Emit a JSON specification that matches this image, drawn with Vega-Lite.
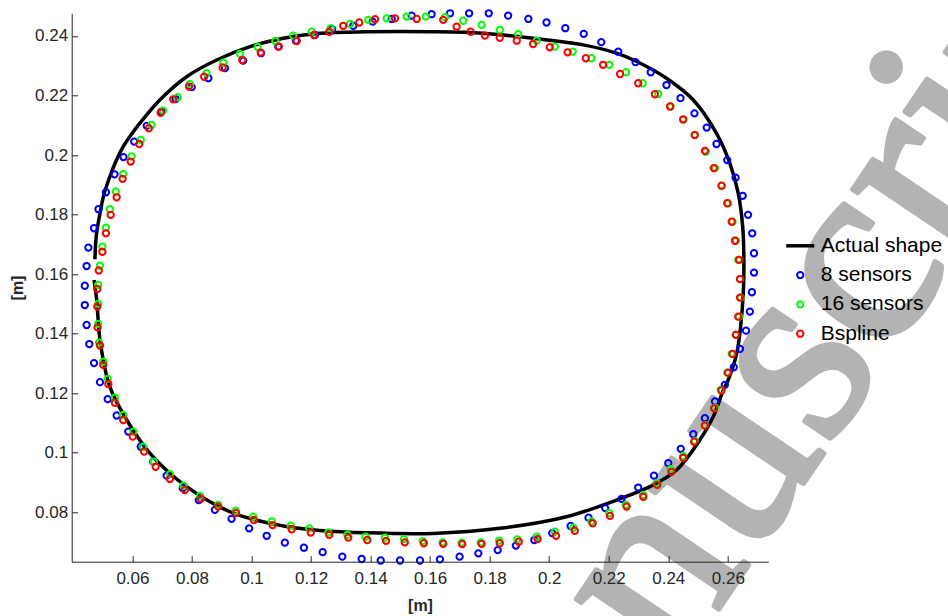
{
  "$schema": "https://vega.github.io/schema/vega-lite/v6.json",
  "width": 696.6,
  "height": 548.4,
  "autosize": {"type": "none"},
  "padding": {"left": 71.7, "top": 13.3, "right": 179.7, "bottom": 54.3},
  "background": "white",
  "config": {
    "view": {"stroke": null},
    "axis": {
      "zindex": 1,
      "grid": false,
      "domainColor": "#262626",
      "domainWidth": 1,
      "tickColor": "#262626",
      "tickSize": -6,
      "tickWidth": 1,
      "labelColor": "#262626",
      "labelFont": "Liberation Sans",
      "labelFontSize": 17,
      "titleFont": "Liberation Sans",
      "titleFontSize": 16,
      "titleFontWeight": "bold",
      "titleColor": "#262626"
    }
  },
  "data": {"values": [
    {"s":"Actual shape","i":1,"x":0.0474,"y":0.1650},
    {"s":"Actual shape","i":2,"x":0.0479,"y":0.1732},
    {"s":"Actual shape","i":3,"x":0.0491,"y":0.1804},
    {"s":"Actual shape","i":4,"x":0.0504,"y":0.1866},
    {"s":"Actual shape","i":5,"x":0.0524,"y":0.1927},
    {"s":"Actual shape","i":6,"x":0.0545,"y":0.1980},
    {"s":"Actual shape","i":7,"x":0.0569,"y":0.2028},
    {"s":"Actual shape","i":8,"x":0.0595,"y":0.2067},
    {"s":"Actual shape","i":9,"x":0.0625,"y":0.2107},
    {"s":"Actual shape","i":10,"x":0.0692,"y":0.2185},
    {"s":"Actual shape","i":11,"x":0.0782,"y":0.2263},
    {"s":"Actual shape","i":12,"x":0.0883,"y":0.2319},
    {"s":"Actual shape","i":13,"x":0.0995,"y":0.2364},
    {"s":"Actual shape","i":14,"x":0.1107,"y":0.2392},
    {"s":"Actual shape","i":15,"x":0.1230,"y":0.2409},
    {"s":"Actual shape","i":16,"x":0.1387,"y":0.2414},
    {"s":"Actual shape","i":17,"x":0.1610,"y":0.2414},
    {"s":"Actual shape","i":18,"x":0.1778,"y":0.2409},
    {"s":"Actual shape","i":19,"x":0.1946,"y":0.2392},
    {"s":"Actual shape","i":20,"x":0.2114,"y":0.2370},
    {"s":"Actual shape","i":21,"x":0.2226,"y":0.2342},
    {"s":"Actual shape","i":22,"x":0.2294,"y":0.2314},
    {"s":"Actual shape","i":23,"x":0.2394,"y":0.2258},
    {"s":"Actual shape","i":24,"x":0.2484,"y":0.2185},
    {"s":"Actual shape","i":25,"x":0.2562,"y":0.2073},
    {"s":"Actual shape","i":26,"x":0.2607,"y":0.1972},
    {"s":"Actual shape","i":27,"x":0.2635,"y":0.1872},
    {"s":"Actual shape","i":28,"x":0.2650,"y":0.1759},
    {"s":"Actual shape","i":29,"x":0.2654,"y":0.1648},
    {"s":"Actual shape","i":30,"x":0.2652,"y":0.1536},
    {"s":"Actual shape","i":31,"x":0.2643,"y":0.1424},
    {"s":"Actual shape","i":32,"x":0.2630,"y":0.1334},
    {"s":"Actual shape","i":33,"x":0.2601,"y":0.1244},
    {"s":"Actual shape","i":34,"x":0.2585,"y":0.1211},
    {"s":"Actual shape","i":35,"x":0.2551,"y":0.1121},
    {"s":"Actual shape","i":36,"x":0.2506,"y":0.1043},
    {"s":"Actual shape","i":37,"x":0.2428,"y":0.0942},
    {"s":"Actual shape","i":38,"x":0.2338,"y":0.0886},
    {"s":"Actual shape","i":39,"x":0.2226,"y":0.0841},
    {"s":"Actual shape","i":40,"x":0.2058,"y":0.0785},
    {"s":"Actual shape","i":41,"x":0.1834,"y":0.0746},
    {"s":"Actual shape","i":42,"x":0.1610,"y":0.0729},
    {"s":"Actual shape","i":43,"x":0.1387,"y":0.0731},
    {"s":"Actual shape","i":44,"x":0.1230,"y":0.0739},
    {"s":"Actual shape","i":45,"x":0.1107,"y":0.0754},
    {"s":"Actual shape","i":46,"x":0.0939,"y":0.0797},
    {"s":"Actual shape","i":47,"x":0.0782,"y":0.0886},
    {"s":"Actual shape","i":48,"x":0.0659,"y":0.0998},
    {"s":"Actual shape","i":49,"x":0.0581,"y":0.1110},
    {"s":"Actual shape","i":50,"x":0.0524,"y":0.1222},
    {"s":"Actual shape","i":51,"x":0.0491,"y":0.1379},
    {"s":"Actual shape","i":52,"x":0.0480,"y":0.1513},
    {"s":"Actual shape","i":53,"x":0.0471,"y":0.1580},

    {"s":"8 sensors","x":0.0440,"y":0.1496},
    {"s":"8 sensors","x":0.0440,"y":0.1561},
    {"s":"8 sensors","x":0.0446,"y":0.1627},
    {"s":"8 sensors","x":0.0452,"y":0.1689},
    {"s":"8 sensors","x":0.0471,"y":0.1754},
    {"s":"8 sensors","x":0.0486,"y":0.1818},
    {"s":"8 sensors","x":0.0511,"y":0.1875},
    {"s":"8 sensors","x":0.0540,"y":0.1935},
    {"s":"8 sensors","x":0.0570,"y":0.1993},
    {"s":"8 sensors","x":0.0606,"y":0.2045},
    {"s":"8 sensors","x":0.0648,"y":0.2098},
    {"s":"8 sensors","x":0.0698,"y":0.2146},
    {"s":"8 sensors","x":0.0745,"y":0.2188},
    {"s":"8 sensors","x":0.0799,"y":0.2228},
    {"s":"8 sensors","x":0.0855,"y":0.2258},
    {"s":"8 sensors","x":0.0911,"y":0.2292},
    {"s":"8 sensors","x":0.0972,"y":0.2317},
    {"s":"8 sensors","x":0.1032,"y":0.2342},
    {"s":"8 sensors","x":0.1090,"y":0.2364},
    {"s":"8 sensors","x":0.1149,"y":0.2384},
    {"s":"8 sensors","x":0.1213,"y":0.2403},
    {"s":"8 sensors","x":0.1271,"y":0.2423},
    {"s":"8 sensors","x":0.1342,"y":0.2434},
    {"s":"8 sensors","x":0.1407,"y":0.2448},
    {"s":"8 sensors","x":0.1471,"y":0.2457},
    {"s":"8 sensors","x":0.1538,"y":0.2468},
    {"s":"8 sensors","x":0.1605,"y":0.2473},
    {"s":"8 sensors","x":0.1667,"y":0.2476},
    {"s":"8 sensors","x":0.1731,"y":0.2476},
    {"s":"8 sensors","x":0.1797,"y":0.2476},
    {"s":"8 sensors","x":0.1862,"y":0.2468},
    {"s":"8 sensors","x":0.1930,"y":0.2457},
    {"s":"8 sensors","x":0.1991,"y":0.2445},
    {"s":"8 sensors","x":0.2054,"y":0.2426},
    {"s":"8 sensors","x":0.2116,"y":0.2407},
    {"s":"8 sensors","x":0.2175,"y":0.2379},
    {"s":"8 sensors","x":0.2232,"y":0.2347},
    {"s":"8 sensors","x":0.2290,"y":0.2312},
    {"s":"8 sensors","x":0.2341,"y":0.2278},
    {"s":"8 sensors","x":0.2394,"y":0.2235},
    {"s":"8 sensors","x":0.2441,"y":0.2191},
    {"s":"8 sensors","x":0.2488,"y":0.2140},
    {"s":"8 sensors","x":0.2529,"y":0.2092},
    {"s":"8 sensors","x":0.2562,"y":0.2037},
    {"s":"8 sensors","x":0.2598,"y":0.1983},
    {"s":"8 sensors","x":0.2626,"y":0.1924},
    {"s":"8 sensors","x":0.2650,"y":0.1863},
    {"s":"8 sensors","x":0.2668,"y":0.1799},
    {"s":"8 sensors","x":0.2682,"y":0.1737},
    {"s":"8 sensors","x":0.2688,"y":0.1670},
    {"s":"8 sensors","x":0.2688,"y":0.1605},
    {"s":"8 sensors","x":0.2681,"y":0.1539},
    {"s":"8 sensors","x":0.2674,"y":0.1474},
    {"s":"8 sensors","x":0.2661,"y":0.1410},
    {"s":"8 sensors","x":0.2641,"y":0.1349},
    {"s":"8 sensors","x":0.2620,"y":0.1287},
    {"s":"8 sensors","x":0.2590,"y":0.1228},
    {"s":"8 sensors","x":0.2557,"y":0.1172},
    {"s":"8 sensors","x":0.2523,"y":0.1116},
    {"s":"8 sensors","x":0.2484,"y":0.1062},
    {"s":"8 sensors","x":0.2442,"y":0.1013},
    {"s":"8 sensors","x":0.2400,"y":0.0965},
    {"s":"8 sensors","x":0.2352,"y":0.0923},
    {"s":"8 sensors","x":0.2299,"y":0.0883},
    {"s":"8 sensors","x":0.2243,"y":0.0845},
    {"s":"8 sensors","x":0.2188,"y":0.0814},
    {"s":"8 sensors","x":0.2132,"y":0.0782},
    {"s":"8 sensors","x":0.2072,"y":0.0754},
    {"s":"8 sensors","x":0.2010,"y":0.0730},
    {"s":"8 sensors","x":0.1950,"y":0.0707},
    {"s":"8 sensors","x":0.1888,"y":0.0688},
    {"s":"8 sensors","x":0.1827,"y":0.0673},
    {"s":"8 sensors","x":0.1762,"y":0.0662},
    {"s":"8 sensors","x":0.1699,"y":0.0651},
    {"s":"8 sensors","x":0.1633,"y":0.0642},
    {"s":"8 sensors","x":0.1566,"y":0.0638},
    {"s":"8 sensors","x":0.1499,"y":0.0638},
    {"s":"8 sensors","x":0.1434,"y":0.0638},
    {"s":"8 sensors","x":0.1370,"y":0.0643},
    {"s":"8 sensors","x":0.1305,"y":0.0651},
    {"s":"8 sensors","x":0.1239,"y":0.0666},
    {"s":"8 sensors","x":0.1176,"y":0.0681},
    {"s":"8 sensors","x":0.1112,"y":0.0698},
    {"s":"8 sensors","x":0.1051,"y":0.0721},
    {"s":"8 sensors","x":0.0992,"y":0.0746},
    {"s":"8 sensors","x":0.0933,"y":0.0778},
    {"s":"8 sensors","x":0.0877,"y":0.0808},
    {"s":"8 sensors","x":0.0823,"y":0.0841},
    {"s":"8 sensors","x":0.0769,"y":0.0881},
    {"s":"8 sensors","x":0.0715,"y":0.0923},
    {"s":"8 sensors","x":0.0670,"y":0.0970},
    {"s":"8 sensors","x":0.0628,"y":0.1020},
    {"s":"8 sensors","x":0.0586,"y":0.1071},
    {"s":"8 sensors","x":0.0547,"y":0.1125},
    {"s":"8 sensors","x":0.0517,"y":0.1180},
    {"s":"8 sensors","x":0.0491,"y":0.1237},
    {"s":"8 sensors","x":0.0471,"y":0.1301},
    {"s":"8 sensors","x":0.0455,"y":0.1365},
    {"s":"8 sensors","x":0.0446,"y":0.1429},

    {"s":"16 sensors","x":0.0485,"y":0.1500},
    {"s":"16 sensors","x":0.0485,"y":0.1564},
    {"s":"16 sensors","x":0.0491,"y":0.1628},
    {"s":"16 sensors","x":0.0499,"y":0.1692},
    {"s":"16 sensors","x":0.0511,"y":0.1756},
    {"s":"16 sensors","x":0.0524,"y":0.1818},
    {"s":"16 sensors","x":0.0544,"y":0.1877},
    {"s":"16 sensors","x":0.0569,"y":0.1936},
    {"s":"16 sensors","x":0.0597,"y":0.1995},
    {"s":"16 sensors","x":0.0628,"y":0.2051},
    {"s":"16 sensors","x":0.0664,"y":0.2101},
    {"s":"16 sensors","x":0.0703,"y":0.2149},
    {"s":"16 sensors","x":0.0752,"y":0.2194},
    {"s":"16 sensors","x":0.0793,"y":0.2238},
    {"s":"16 sensors","x":0.0849,"y":0.2275},
    {"s":"16 sensors","x":0.0905,"y":0.2310},
    {"s":"16 sensors","x":0.0961,"y":0.2340},
    {"s":"16 sensors","x":0.1021,"y":0.2363},
    {"s":"16 sensors","x":0.1080,"y":0.2383},
    {"s":"16 sensors","x":0.1140,"y":0.2401},
    {"s":"16 sensors","x":0.1202,"y":0.2414},
    {"s":"16 sensors","x":0.1266,"y":0.2426},
    {"s":"16 sensors","x":0.1331,"y":0.2440},
    {"s":"16 sensors","x":0.1392,"y":0.2454},
    {"s":"16 sensors","x":0.1454,"y":0.2459},
    {"s":"16 sensors","x":0.1521,"y":0.2465},
    {"s":"16 sensors","x":0.1585,"y":0.2465},
    {"s":"16 sensors","x":0.1650,"y":0.2463},
    {"s":"16 sensors","x":0.1711,"y":0.2451},
    {"s":"16 sensors","x":0.1773,"y":0.2437},
    {"s":"16 sensors","x":0.1834,"y":0.2420},
    {"s":"16 sensors","x":0.1896,"y":0.2406},
    {"s":"16 sensors","x":0.1958,"y":0.2384},
    {"s":"16 sensors","x":0.2019,"y":0.2364},
    {"s":"16 sensors","x":0.2079,"y":0.2347},
    {"s":"16 sensors","x":0.2142,"y":0.2325},
    {"s":"16 sensors","x":0.2202,"y":0.2303},
    {"s":"16 sensors","x":0.2258,"y":0.2278},
    {"s":"16 sensors","x":0.2314,"y":0.2241},
    {"s":"16 sensors","x":0.2366,"y":0.2205},
    {"s":"16 sensors","x":0.2408,"y":0.2163},
    {"s":"16 sensors","x":0.2450,"y":0.2118},
    {"s":"16 sensors","x":0.2489,"y":0.2067},
    {"s":"16 sensors","x":0.2526,"y":0.2011},
    {"s":"16 sensors","x":0.2557,"y":0.1956},
    {"s":"16 sensors","x":0.2579,"y":0.1896},
    {"s":"16 sensors","x":0.2601,"y":0.1838},
    {"s":"16 sensors","x":0.2616,"y":0.1776},
    {"s":"16 sensors","x":0.2627,"y":0.1712},
    {"s":"16 sensors","x":0.2635,"y":0.1648},
    {"s":"16 sensors","x":0.2641,"y":0.1583},
    {"s":"16 sensors","x":0.2643,"y":0.1521},
    {"s":"16 sensors","x":0.2638,"y":0.1457},
    {"s":"16 sensors","x":0.2627,"y":0.1396},
    {"s":"16 sensors","x":0.2613,"y":0.1332},
    {"s":"16 sensors","x":0.2598,"y":0.1269},
    {"s":"16 sensors","x":0.2576,"y":0.1211},
    {"s":"16 sensors","x":0.2557,"y":0.1151},
    {"s":"16 sensors","x":0.2523,"y":0.1093},
    {"s":"16 sensors","x":0.2489,"y":0.1040},
    {"s":"16 sensors","x":0.2450,"y":0.0989},
    {"s":"16 sensors","x":0.2408,"y":0.0945},
    {"s":"16 sensors","x":0.2361,"y":0.0898},
    {"s":"16 sensors","x":0.2316,"y":0.0858},
    {"s":"16 sensors","x":0.2258,"y":0.0825},
    {"s":"16 sensors","x":0.2202,"y":0.0797},
    {"s":"16 sensors","x":0.2142,"y":0.0769},
    {"s":"16 sensors","x":0.2081,"y":0.0748},
    {"s":"16 sensors","x":0.2019,"y":0.0735},
    {"s":"16 sensors","x":0.1958,"y":0.0718},
    {"s":"16 sensors","x":0.1893,"y":0.0709},
    {"s":"16 sensors","x":0.1832,"y":0.0705},
    {"s":"16 sensors","x":0.1770,"y":0.0699},
    {"s":"16 sensors","x":0.1706,"y":0.0698},
    {"s":"16 sensors","x":0.1642,"y":0.0699},
    {"s":"16 sensors","x":0.1575,"y":0.0703},
    {"s":"16 sensors","x":0.1512,"y":0.0710},
    {"s":"16 sensors","x":0.1448,"y":0.0715},
    {"s":"16 sensors","x":0.1383,"y":0.0718},
    {"s":"16 sensors","x":0.1322,"y":0.0724},
    {"s":"16 sensors","x":0.1258,"y":0.0732},
    {"s":"16 sensors","x":0.1194,"y":0.0746},
    {"s":"16 sensors","x":0.1132,"y":0.0755},
    {"s":"16 sensors","x":0.1068,"y":0.0769},
    {"s":"16 sensors","x":0.1006,"y":0.0785},
    {"s":"16 sensors","x":0.0947,"y":0.0805},
    {"s":"16 sensors","x":0.0888,"y":0.0825},
    {"s":"16 sensors","x":0.0827,"y":0.0855},
    {"s":"16 sensors","x":0.0771,"y":0.0889},
    {"s":"16 sensors","x":0.0726,"y":0.0928},
    {"s":"16 sensors","x":0.0672,"y":0.0970},
    {"s":"16 sensors","x":0.0636,"y":0.1020},
    {"s":"16 sensors","x":0.0603,"y":0.1071},
    {"s":"16 sensors","x":0.0569,"y":0.1127},
    {"s":"16 sensors","x":0.0541,"y":0.1185},
    {"s":"16 sensors","x":0.0517,"y":0.1248},
    {"s":"16 sensors","x":0.0502,"y":0.1306},
    {"s":"16 sensors","x":0.0488,"y":0.1370},
    {"s":"16 sensors","x":0.0485,"y":0.1433},

    {"s":"Bspline","x":0.0482,"y":0.1491},
    {"s":"Bspline","x":0.0482,"y":0.1550},
    {"s":"Bspline","x":0.0487,"y":0.1612},
    {"s":"Bspline","x":0.0499,"y":0.1675},
    {"s":"Bspline","x":0.0511,"y":0.1737},
    {"s":"Bspline","x":0.0527,"y":0.1799},
    {"s":"Bspline","x":0.0547,"y":0.1858},
    {"s":"Bspline","x":0.0567,"y":0.1920},
    {"s":"Bspline","x":0.0594,"y":0.1978},
    {"s":"Bspline","x":0.0623,"y":0.2037},
    {"s":"Bspline","x":0.0655,"y":0.2090},
    {"s":"Bspline","x":0.0695,"y":0.2142},
    {"s":"Bspline","x":0.0737,"y":0.2187},
    {"s":"Bspline","x":0.0790,"y":0.2230},
    {"s":"Bspline","x":0.0841,"y":0.2263},
    {"s":"Bspline","x":0.0903,"y":0.2294},
    {"s":"Bspline","x":0.0969,"y":0.2319},
    {"s":"Bspline","x":0.1031,"y":0.2344},
    {"s":"Bspline","x":0.1092,"y":0.2364},
    {"s":"Bspline","x":0.1152,"y":0.2383},
    {"s":"Bspline","x":0.1210,"y":0.2403},
    {"s":"Bspline","x":0.1261,"y":0.2414},
    {"s":"Bspline","x":0.1308,"y":0.2434},
    {"s":"Bspline","x":0.1362,"y":0.2445},
    {"s":"Bspline","x":0.1415,"y":0.2456},
    {"s":"Bspline","x":0.1482,"y":0.2459},
    {"s":"Bspline","x":0.1555,"y":0.2457},
    {"s":"Bspline","x":0.1644,"y":0.2454},
    {"s":"Bspline","x":0.1689,"y":0.2431},
    {"s":"Bspline","x":0.1736,"y":0.2414},
    {"s":"Bspline","x":0.1784,"y":0.2401},
    {"s":"Bspline","x":0.1834,"y":0.2394},
    {"s":"Bspline","x":0.1891,"y":0.2384},
    {"s":"Bspline","x":0.1946,"y":0.2373},
    {"s":"Bspline","x":0.2002,"y":0.2362},
    {"s":"Bspline","x":0.2062,"y":0.2345},
    {"s":"Bspline","x":0.2123,"y":0.2325},
    {"s":"Bspline","x":0.2181,"y":0.2303},
    {"s":"Bspline","x":0.2238,"y":0.2272},
    {"s":"Bspline","x":0.2299,"y":0.2241},
    {"s":"Bspline","x":0.2355,"y":0.2204},
    {"s":"Bspline","x":0.2406,"y":0.2163},
    {"s":"Bspline","x":0.2450,"y":0.2120},
    {"s":"Bspline","x":0.2489,"y":0.2067},
    {"s":"Bspline","x":0.2523,"y":0.2014},
    {"s":"Bspline","x":0.2553,"y":0.1956},
    {"s":"Bspline","x":0.2579,"y":0.1897},
    {"s":"Bspline","x":0.2598,"y":0.1838},
    {"s":"Bspline","x":0.2613,"y":0.1776},
    {"s":"Bspline","x":0.2624,"y":0.1712},
    {"s":"Bspline","x":0.2638,"y":0.1648},
    {"s":"Bspline","x":0.2641,"y":0.1583},
    {"s":"Bspline","x":0.2641,"y":0.1521},
    {"s":"Bspline","x":0.2635,"y":0.1457},
    {"s":"Bspline","x":0.2627,"y":0.1396},
    {"s":"Bspline","x":0.2616,"y":0.1332},
    {"s":"Bspline","x":0.2601,"y":0.1269},
    {"s":"Bspline","x":0.2579,"y":0.1209},
    {"s":"Bspline","x":0.2554,"y":0.1149},
    {"s":"Bspline","x":0.2523,"y":0.1091},
    {"s":"Bspline","x":0.2487,"y":0.1037},
    {"s":"Bspline","x":0.2450,"y":0.0983},
    {"s":"Bspline","x":0.2411,"y":0.0936},
    {"s":"Bspline","x":0.2363,"y":0.0892},
    {"s":"Bspline","x":0.2316,"y":0.0852},
    {"s":"Bspline","x":0.2260,"y":0.0819},
    {"s":"Bspline","x":0.2204,"y":0.0788},
    {"s":"Bspline","x":0.2146,"y":0.0763},
    {"s":"Bspline","x":0.2086,"y":0.0738},
    {"s":"Bspline","x":0.2023,"y":0.0721},
    {"s":"Bspline","x":0.1961,"y":0.0710},
    {"s":"Bspline","x":0.1898,"y":0.0701},
    {"s":"Bspline","x":0.1834,"y":0.0696},
    {"s":"Bspline","x":0.1773,"y":0.0694},
    {"s":"Bspline","x":0.1708,"y":0.0693},
    {"s":"Bspline","x":0.1644,"y":0.0694},
    {"s":"Bspline","x":0.1579,"y":0.0696},
    {"s":"Bspline","x":0.1515,"y":0.0699},
    {"s":"Bspline","x":0.1452,"y":0.0704},
    {"s":"Bspline","x":0.1389,"y":0.0707},
    {"s":"Bspline","x":0.1325,"y":0.0715},
    {"s":"Bspline","x":0.1261,"y":0.0724},
    {"s":"Bspline","x":0.1199,"y":0.0732},
    {"s":"Bspline","x":0.1135,"y":0.0743},
    {"s":"Bspline","x":0.1071,"y":0.0757},
    {"s":"Bspline","x":0.1008,"y":0.0774},
    {"s":"Bspline","x":0.0948,"y":0.0797},
    {"s":"Bspline","x":0.0888,"y":0.0819},
    {"s":"Bspline","x":0.0830,"y":0.0845},
    {"s":"Bspline","x":0.0776,"y":0.0875},
    {"s":"Bspline","x":0.0726,"y":0.0912},
    {"s":"Bspline","x":0.0678,"y":0.0953},
    {"s":"Bspline","x":0.0639,"y":0.1004},
    {"s":"Bspline","x":0.0601,"y":0.1054},
    {"s":"Bspline","x":0.0569,"y":0.1110},
    {"s":"Bspline","x":0.0541,"y":0.1168},
    {"s":"Bspline","x":0.0519,"y":0.1231},
    {"s":"Bspline","x":0.0502,"y":0.1295},
    {"s":"Bspline","x":0.0491,"y":0.1360},
    {"s":"Bspline","x":0.0483,"y":0.1421}
  ]},
  "layer": [
    {
      "data": {"values": [{"label": "manuscript"}]},
      "mark": {"type": "text", "font": "Liberation Serif", "fontSize": 270, "angle": -56, "align": "left", "baseline": "alphabetic", "color": "#b3b3b3", "stroke": "#b3b3b3", "strokeWidth": 5, "strokeJoin": "round"},
      "encoding": {
        "x": {"datum": 0.1805, "type": "quantitative"},
        "y": {"datum": -0.066, "type": "quantitative"},
        "text": {"field": "label"}
      }
    },
    {
      "transform": [{"filter": "datum.s === 'Actual shape'"}],
      "mark": {"type": "line", "strokeWidth": 3.5, "strokeCap": "butt", "strokeJoin": "round", "interpolate": "catmull-rom"},
      "encoding": {
        "x": {"field": "x", "type": "quantitative", "scale": {"domain": [0.0396, 0.2736], "nice": false, "zero": false},
              "axis": {"zindex": 2, "title": "[m]", "values": [0.06,0.08,0.1,0.12,0.14,0.16,0.18,0.2,0.22,0.24,0.26], "format": "~g", "labelPadding": 15, "titlePadding": 11}},
        "y": {"field": "y", "type": "quantitative", "scale": {"domain": [0.0634, 0.2476], "nice": false, "zero": false},
              "axis": {"zindex": 2, "title": "[m]", "values": [0.08,0.1,0.12,0.14,0.16,0.18,0.2,0.22,0.24], "format": "~g", "labelPadding": 10, "titlePadding": 9}},
        "order": {"field": "i", "type": "quantitative"},
        "color": {"field": "s", "type": "nominal",
          "scale": {"domain": ["Actual shape", "8 sensors", "16 sensors", "Bspline"], "range": ["#000000", "#0000ff", "#00ff00", "#ff0000"]},
          "legend": {
            "title": null, "orient": "none", "legendX": 718, "legendY": 222, "padding": 0, "zindex": 3,
            "symbolSize": 784, "labelFont": "Liberation Sans", "labelFontSize": 21, "labelColor": "#000000", "labelOffset": 10, "rowPadding": 7.3,
            "encode": {"symbols": {"update": {
              "shape": {"signal": "datum.value === 'Actual shape' ? 'stroke' : 'circle'"},
              "size": {"signal": "datum.value === 'Actual shape' ? 784 : 40"},
              "strokeWidth": {"signal": "datum.value === 'Actual shape' ? 3.5 : 2"},
              "fill": {"value": "transparent"},
              "stroke": {"scale": "color", "field": "value"},
              "opacity": {"value": 1}
            }}}
          }}
      }
    },
    {
      "transform": [{"filter": "datum.s !== 'Actual shape'"}],
      "mark": {"type": "point", "shape": "circle", "filled": false, "size": 40, "strokeWidth": 2, "opacity": 1},
      "encoding": {
        "x": {"field": "x", "type": "quantitative"},
        "y": {"field": "y", "type": "quantitative"},
        "color": {"field": "s", "type": "nominal"}
      }
    }
  ]
}
